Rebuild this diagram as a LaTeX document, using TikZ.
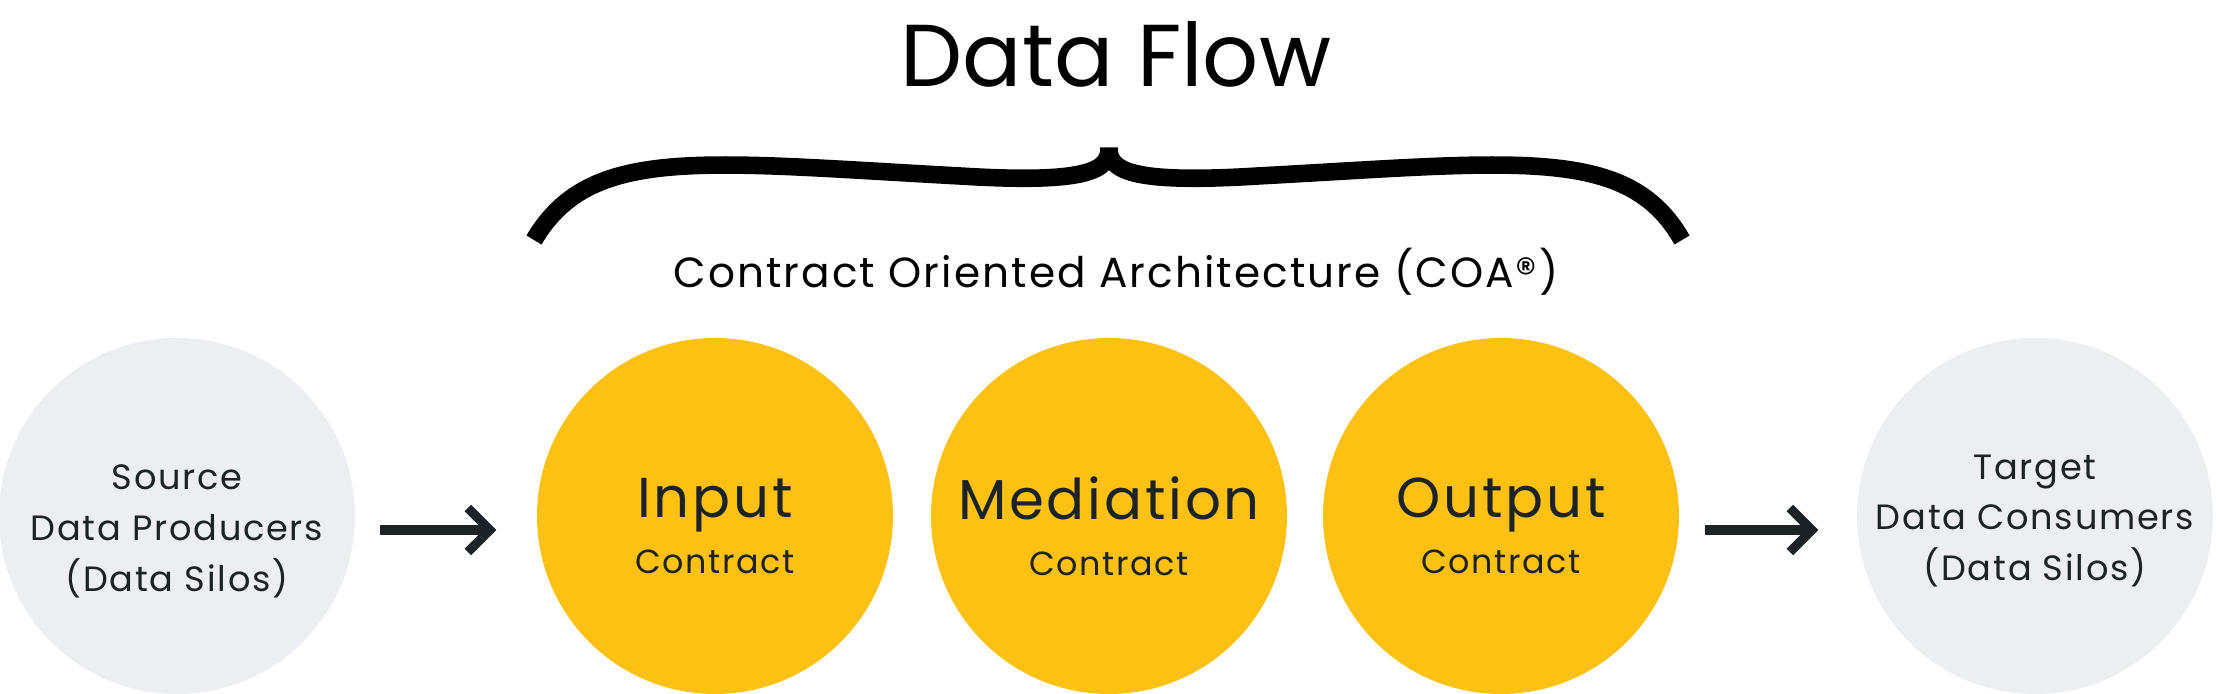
\documentclass[tikz,border=0pt]{standalone}
\usepackage{fontspec}
\setmainfont{Poppins}
\newfontfamily\widefont[LetterSpace=5]{Poppins}
\usetikzlibrary{arrows.meta,positioning}
\definecolor{silo}{HTML}{ECEEF1}
\definecolor{contract}{HTML}{FDC113}
\definecolor{ink}{HTML}{1B2326}
\tikzset{
  silo/.style={circle, fill=silo, minimum size=3.56cm, inner sep=0pt},
  contract/.style={circle, fill=contract, minimum size=3.56cm, inner sep=0pt},
  silotext/.style={align=center, font=\widefont\fontsize{10}{14.5}\selectfont, text=ink},
  contracttext/.style={align=center, text=ink},
  flow/.style={-{Straight Barb[length=2.2mm,width=4.4mm]}, line width=2.6pt, draw=ink}
}
\newcommand{\cname}[2]{{\widefont\fontsize{16}{20}\selectfont #1}\\[4pt]{\widefont\fontsize{9.5}{12}\selectfont #2}}
\begin{document}
\begin{tikzpicture}
    \useasboundingbox (0,0) rectangle (22.16,-6.94);
    % Title
    \node [text=black, font=\fontsize{25}{30}\selectfont] (title) at (11.16,-0.54) {Data Flow};

    % Circles
    \node [silo] (source) at (1.77,-5.16) {};
    \node [contract] (input) at (7.15,-5.16) {};
    \node [contract] (mediation) at (11.09,-5.16) {};
    \node [contract] (output) at (15.01,-5.16) {};
    \node [silo] (target) at (20.35,-5.16) {};

    % Circle texts
    \node [silotext, yshift=-0.15cm] (sourcetext) at (source) {Source\\Data Producers\\(Data Silos)};
    \node [contracttext, yshift=-0.1cm] (inputtext) at (input) {\cname{Input}{Contract}};
    \node [contracttext, yshift=-0.1cm] (mediationtext) at (mediation) {\cname{Mediation}{Contract}};
    \node [contracttext, yshift=-0.1cm] (outputtext) at (output) {\cname{Output}{Contract}};
    \node [silotext, yshift=-0.05cm] (targettext) at (target) {Target\\Data Consumers\\(Data Silos)};

    % Brace
    \coordinate (bl) at (5.34,-2.40);
    \coordinate (br) at (16.82,-2.40);
    \coordinate (bm) at (11.09,-1.48);
    \draw [line width=5pt, black]
      (bl) .. controls (5.9,-1.45) and (7.0,-1.62) .. (9.6,-1.76)
           .. controls (10.9,-1.84) and (11.09,-1.70) .. (bm)
           .. controls (11.09,-1.70) and (11.28,-1.84) .. (12.58,-1.76)
           .. controls (15.18,-1.62) and (16.28,-1.45) .. (br);
    \node [text=black, font=\widefont\fontsize{12}{16}\selectfont] (coa) at (11.16,-2.72) {Contract Oriented Architecture (COA®)};

    % Arrows
    \draw [flow, shorten <=0.24cm, shorten >=0.4cm] ([yshift=-0.14cm]source.east) -- ([yshift=-0.14cm]input.west);
    \draw [flow, shorten <=0.25cm, shorten >=0.38cm] ([yshift=-0.14cm]output.east) -- ([yshift=-0.14cm]target.west);
\end{tikzpicture}
\end{document}
